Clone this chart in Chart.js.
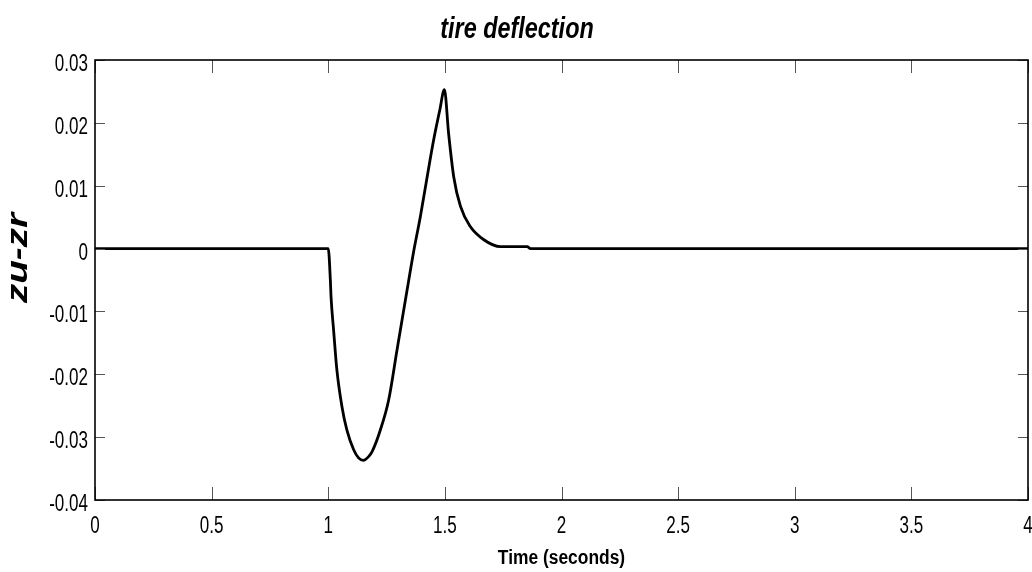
<!DOCTYPE html>
<html>
<head>
<meta charset="utf-8">
<script src="https://cdn.jsdelivr.net/npm/chart.js@4"></script>
<style>
  html, body { margin: 0; padding: 0; background: #fff; }
  #wrap { width: 1032px; height: 572px; position: relative; }
</style>
</head>
<body>
<div id="wrap"><canvas id="tireChart"></canvas></div>
<script>
// ===============================
// data
// ===============================
const times = [0, 1.0, 1.009, 1.012, 1.023, 1.037, 1.059, 1.080, 1.109, 1.130, 1.150, 1.173, 1.188,
    1.223, 1.259, 1.295, 1.338, 1.366, 1.395, 1.424, 1.452, 1.478, 1.498, 1.516, 1.538,
    1.567, 1.609, 1.667, 1.738, 1.853, 1.867, 4];
const zuZr = [0, 0, -0.005, -0.0077, -0.0130, -0.0193, -0.0252, -0.0289, -0.0320, -0.0333, -0.0337, -0.0331, -0.0323,
    -0.0289, -0.0241, -0.0161, -0.0066, -0.0005, 0.0051, 0.0114, 0.0173, 0.0220, 0.0253, 0.0183, 0.0114,
    0.0067, 0.0035, 0.0014, 0.0003, 0.0003, 0, 0];

const xTicks = [0, 0.5, 1, 1.5, 2, 2.5, 3, 3.5, 4];
const xTickLabels = ["0", "0.5", "1", "1.5", "2", "2.5", "3", "3.5", "4"];
const yTicks = [-0.04, -0.03, -0.02, -0.01, 0, 0.01, 0.02, 0.03];
const yTickLabels = ["-0.04", "-0.03", "-0.02", "-0.01", "0", "0.01", "0.02", "0.03"];

const titleText = "tire deflection";
const xTitle = "Time (seconds)";
const yTitle = "zu-zr";

// ===============================
// helpers
// ===============================
const FONT = '"Liberation Sans", Arial, sans-serif';

// squeezed text like the matlab export
function squeezeText(ctx, text, x, y, font, sx, align) {
    ctx.save();
    ctx.font = font;
    ctx.fillStyle = "#000";
    ctx.textBaseline = "alphabetic";
    const w = ctx.measureText(text).width * sx;
    let left = x;
    if (align === "center") left = x - w / 2;
    if (align === "right") left = x - w;
    ctx.translate(left, y);
    ctx.scale(sx, 1);
    ctx.textAlign = "left";
    ctx.fillText(text, 0, 0);
    ctx.restore();
}

const matlabAxes = {
    id: "matlabAxes",
    afterDatasetsDraw(chart) {
        const { ctx, chartArea: a, scales: { x, y } } = chart;

        // inward ticks on all four sides
        ctx.save();
        ctx.strokeStyle = "#555";
        ctx.lineWidth = 1;
        x.ticks.forEach(t => {
            const px = Math.round(x.getPixelForValue(t.value)) + 0.5;
            ctx.beginPath();
            ctx.moveTo(px, a.bottom); ctx.lineTo(px, a.bottom - 13);
            ctx.moveTo(px, a.top); ctx.lineTo(px, a.top + 13);
            ctx.stroke();
        });
        y.ticks.forEach(t => {
            const py = Math.round(y.getPixelForValue(t.value)) + 0.5;
            ctx.beginPath();
            ctx.moveTo(a.left, py); ctx.lineTo(a.left + 10, py);
            ctx.moveTo(a.right, py); ctx.lineTo(a.right - 10, py);
            ctx.stroke();
        });
        ctx.restore();

        // box
        ctx.save();
        ctx.strokeStyle = "#000";
        ctx.lineWidth = 1.6;
        ctx.strokeRect(a.left, a.top, a.right - a.left, a.bottom - a.top);
        ctx.restore();

        // tick labels
        const tickFont = "24px " + FONT;
        x.ticks.forEach((t, i) => {
            squeezeText(ctx, xTickLabels[i], x.getPixelForValue(t.value), a.bottom + 33, tickFont, 0.71, "center");
        });
        y.ticks.forEach((t, i) => {
            squeezeText(ctx, yTickLabels[i], a.left - 7, y.getPixelForValue(t.value) + 11, tickFont, 0.71, "right");
        });

        // titles
        squeezeText(ctx, titleText, 517, 38, "italic bold 30px " + FONT, 0.78, "center");
        squeezeText(ctx, xTitle, (a.left + a.right) / 2, 564, "bold 20px " + FONT, 0.87, "center");

        // rotated y label
        ctx.save();
        ctx.translate(26.5, 258);
        ctx.rotate(-Math.PI / 2);
        ctx.font = "italic bold 29px " + FONT;
        const w = ctx.measureText(yTitle).width;
        const s = 90 / w;
        ctx.scale(s, 1);
        ctx.fillStyle = "#000";
        ctx.textAlign = "center";
        ctx.textBaseline = "alphabetic";
        ctx.fillText(yTitle, 0, 0);
        ctx.restore();
    }
};

// ===============================
// chart
// ===============================
new Chart(document.getElementById("tireChart"), {
    type: "line",
    data: {
        datasets: [{
            data: times.map((t, i) => ({ x: t, y: zuZr[i] })),
            borderColor: "#000",
            borderWidth: 2.8,
            pointRadius: 0,
            cubicInterpolationMode: "monotone",
            fill: false
        }]
    },
    options: {
        responsive: true,
        maintainAspectRatio: false,
        devicePixelRatio: 1,
        animation: false,
        layout: { padding: { left: 95, right: 4, top: 60, bottom: 72 } },
        plugins: {
            legend: { display: false },
            tooltip: { enabled: false }
        },
        scales: {
            x: {
                type: "linear",
                min: 0,
                max: 4,
                afterBuildTicks: s => { s.ticks = xTicks.map(v => ({ value: v })); },
                ticks: { display: false },
                grid: { display: false, drawTicks: false },
                border: { display: false }
            },
            y: {
                min: -0.04,
                max: 0.03,
                afterBuildTicks: s => { s.ticks = yTicks.map(v => ({ value: v })); },
                ticks: { display: false },
                grid: { display: false, drawTicks: false },
                border: { display: false }
            }
        }
    },
    plugins: [matlabAxes]
});
</script>
</body>
</html>
